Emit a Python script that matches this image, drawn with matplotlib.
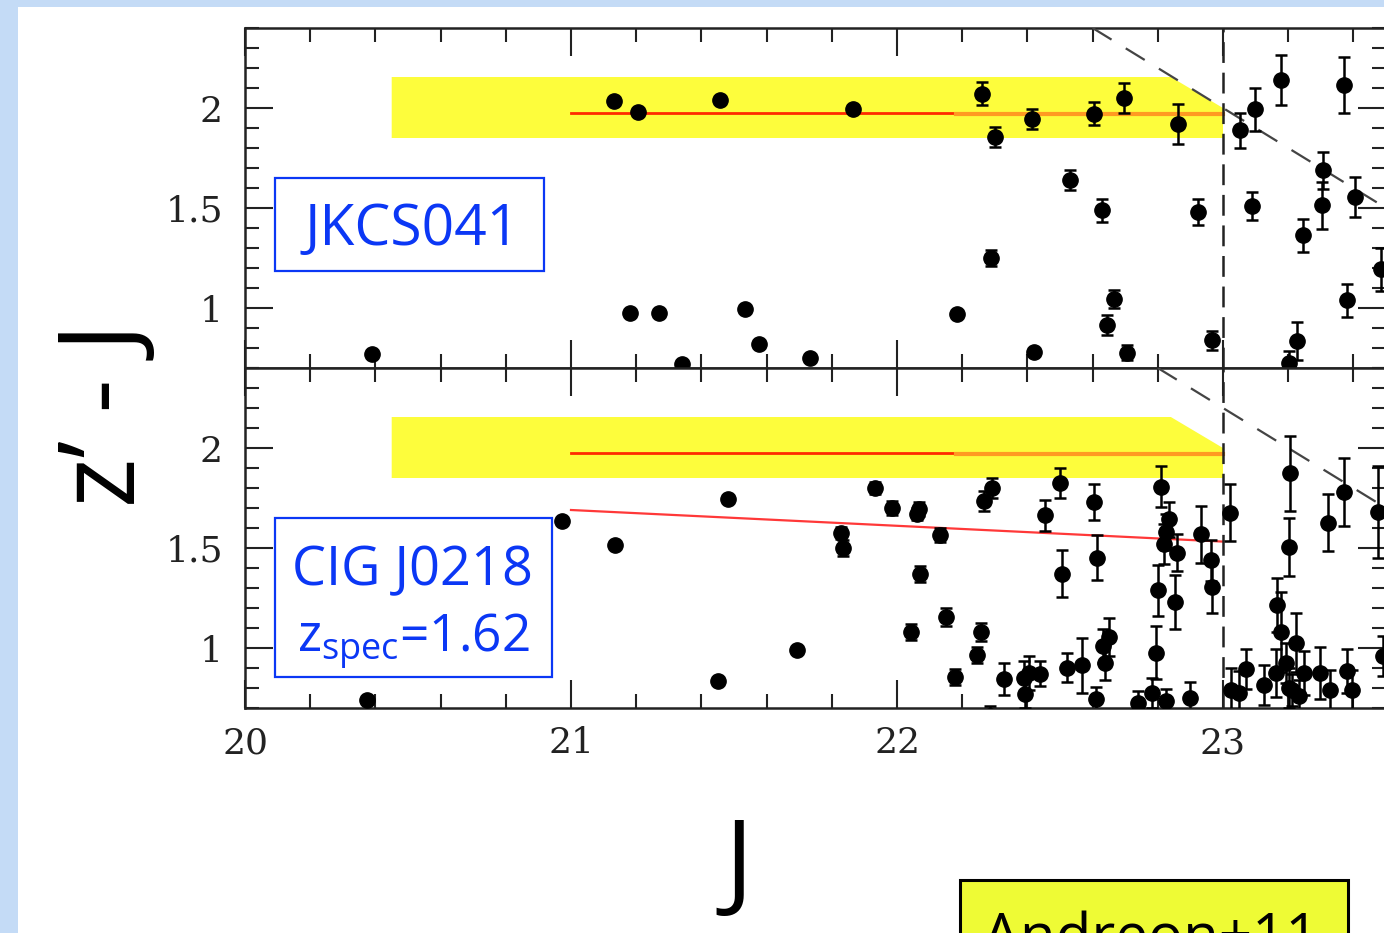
# cmd_red_sequence_panels.py
# z'-J vs J colour-magnitude diagrams for JKCS041 and CIG J0218 (slide figure)

import numpy as np
import matplotlib.pyplot as plt
from matplotlib.patches import Rectangle
from matplotlib.ticker import MultipleLocator

plt.rcParams["lines.scale_dashes"] = False
plt.rcParams["mathtext.fontset"] = "custom"
plt.rcParams["mathtext.rm"] = "Open Sans"

# ---------------------------
# JKCS041 (upper panel): J, z'-J, error on z'-J
# ---------------------------
j_041 = [20.389, 21.131, 21.207, 21.182, 21.269, 21.341, 21.456, 21.535,
         21.576, 21.733, 21.866, 22.183, 22.262, 22.288, 22.300, 22.415,
         22.420, 22.532, 22.605, 22.630, 22.643, 22.667, 22.695, 22.704,
         22.863, 22.924, 22.965, 23.051, 23.088, 23.097, 23.177, 23.203,
         23.226, 23.246, 23.303, 23.306, 23.370, 23.379, 23.405, 23.485]
zj_041 = [0.770, 2.033, 1.978, 0.975, 0.975, 0.720, 2.040, 0.993,
          0.822, 0.752, 1.993, 0.972, 2.072, 1.248, 1.855, 1.943,
          0.782, 1.638, 1.972, 1.488, 0.915, 1.043, 2.052, 0.777,
          1.918, 1.480, 0.838, 1.888, 1.510, 1.993, 2.138, 0.725,
          0.835, 1.363, 1.513, 1.688, 2.115, 1.038, 1.555, 1.193]
err_041 = [0.0, 0.0, 0.0, 0.0, 0.0, 0.0, 0.0, 0.0,
           0.0, 0.0, 0.020, 0.0, 0.058, 0.040, 0.050, 0.050,
           0.015, 0.050, 0.056, 0.056, 0.050, 0.045, 0.075, 0.036,
           0.100, 0.064, 0.047, 0.088, 0.069, 0.107, 0.125, 0.060,
           0.096, 0.081, 0.117, 0.092, 0.138, 0.082, 0.100, 0.108]

# ---------------------------
# CIG J0218 (lower panel)
# ---------------------------
j_0218 = [20.374, 20.972, 21.136, 21.450, 21.481, 21.694, 21.827, 21.835,
          21.934, 21.985, 22.042, 22.060, 22.067, 22.070, 22.132, 22.151,
          22.177, 22.245, 22.257, 22.266, 22.285, 22.292, 22.327, 22.390,
          22.392, 22.405, 22.440, 22.454, 22.500, 22.505, 22.521, 22.567,
          22.605, 22.610, 22.613, 22.633, 22.637, 22.650, 22.738, 22.783,
          22.794, 22.801, 22.811, 22.820, 22.825, 22.824, 22.835, 22.852,
          22.860, 22.899, 22.934, 22.963, 22.966, 23.022, 23.024, 23.050,
          23.070, 23.127, 23.163, 23.166, 23.178, 23.194, 23.201, 23.203,
          23.207, 23.213, 23.224, 23.234, 23.249, 23.298, 23.323, 23.329,
          23.370, 23.380, 23.395, 23.475, 23.490]
zj_0218 = [0.742, 1.633, 1.517, 0.835, 1.747, 0.988, 1.577, 1.498,
           1.800, 1.700, 1.080, 1.668, 1.695, 1.372, 1.565, 1.157,
           0.855, 0.965, 1.080, 1.735, 0.660, 1.798, 0.843, 0.851,
           0.771, 0.876, 0.871, 1.663, 1.823, 1.372, 0.901, 0.913,
           1.730, 0.743, 1.452, 1.010, 0.926, 1.055, 0.727, 0.777,
           0.976, 1.288, 1.807, 1.518, 1.580, 0.735, 1.643, 1.230,
           1.477, 0.751, 1.568, 1.438, 1.305, 1.677, 0.788, 0.776,
           0.893, 0.815, 0.876, 1.215, 1.082, 0.926, 0.801, 1.505,
           1.873, 0.788, 1.027, 0.760, 0.876, 0.876, 1.627, 0.788,
           1.780, 0.885, 0.788, 1.680, 0.960]
err_0218 = [0.0, 0.0, 0.0, 0.0, 0.0, 0.0, 0.030, 0.040,
            0.030, 0.035, 0.040, 0.030, 0.035, 0.040, 0.035, 0.045,
            0.040, 0.040, 0.045, 0.050, 0.050, 0.050, 0.080, 0.085,
            0.070, 0.085, 0.062, 0.077, 0.075, 0.117, 0.072, 0.136,
            0.088, 0.060, 0.111, 0.083, 0.088, 0.096, 0.060, 0.075,
            0.133, 0.129, 0.104, 0.100, 0.090, 0.060, 0.088, 0.133,
            0.092, 0.080, 0.144, 0.104, 0.132, 0.142, 0.110, 0.110,
            0.100, 0.100, 0.120, 0.135, 0.200, 0.100, 0.100, 0.144,
            0.188, 0.080, 0.148, 0.080, 0.110, 0.130, 0.142, 0.100,
            0.168, 0.110, 0.100, 0.230, 0.100]

# red-sequence model and its band
rs_model = 1.976          # model colour, bright part
rs_model_faint = 1.968    # model colour, faint part
rs_split_j = 22.18
rs_start_j = 21.0
band_lo, band_hi = 1.85, 2.155
band_left_j, band_knee_j = 20.45, 22.84
band_corner_c = 2.0

# fitted red sequence of CIG J0218
fit_0218_j = [21.0, 23.0]
fit_0218_c = [1.690, 1.532]

j_complete = 23.0                        # J completeness limit
z_limit = {"top": 25.0, "bottom": 25.2}  # z' completeness limit

x_ticks = [20, 21, 22, 23]
y_ticks = [1, 1.5, 2]

# ---------------------------
# layout (pixels of the 1384x933 slide)
# ---------------------------
W, H = 1384, 933
BLUE = "#0b37f5"
TICK_FONT = "DejaVu Serif"
SLIDE_FONT = "Open Sans"


def px_rect(l, t, r, b):
    return [l / W, 1 - b / H, (r - l) / W, (b - t) / H]


def draw_panel(ax, j, c, e, zlim, label_x, fit=None):
    # yellow red-sequence band, cut by the completeness corner
    ax.fill([band_left_j, band_left_j, band_knee_j, j_complete, j_complete],
            [band_lo, band_hi, band_hi, band_corner_c, band_lo],
            color="#fdfd3c", lw=0, zorder=1)
    ax.plot([rs_start_j, rs_split_j], [rs_model, rs_model],
            color="#ff2a00", lw=2.0, zorder=2)
    ax.plot([rs_split_j, j_complete], [rs_model_faint, rs_model_faint],
            color="#ff9a22", lw=3.0, zorder=2)
    if fit is not None:
        ax.plot(fit[0], fit[1], color="#ff3838", lw=1.6, zorder=2)

    # completeness limits
    ax.axvline(j_complete, color="#222222", lw=1.8, dashes=(15, 7), zorder=3)
    jj = np.array([zlim - 2.4, 23.5])
    ax.plot(jj, zlim - jj, color="#444444", lw=1.6, dashes=(16, 12), zorder=3)

    ax.errorbar(j, c, yerr=e, fmt="o", color="black", ms=11,
                elinewidth=1.8, capsize=4, capthick=1.8, zorder=5)

    ax.set_xlim(20, 23.5)
    ax.set_ylim(0.7, 2.4)
    ax.set_xticks(x_ticks, labels=[str(v) for v in x_ticks])
    ax.set_yticks(y_ticks, labels=[f"{v:g}" for v in y_ticks])
    ax.xaxis.set_minor_locator(MultipleLocator(0.2))
    ax.yaxis.set_minor_locator(MultipleLocator(0.1))
    ax.tick_params(which="both", direction="in", top=True, right=True,
                   width=1.5, color="#222222")
    ax.tick_params(which="major", length=20)
    ax.tick_params(which="minor", length=10)
    ax.tick_params(axis="y", pad=16, labelsize=26, labelcolor="#222222")
    ax.tick_params(axis="x", pad=13, labelsize=26, labelcolor="#222222",
                   labelbottom=label_x)
    for lab in ax.get_xticklabels() + ax.get_yticklabels():
        lab.set_family(TICK_FONT)
    for sp in ax.spines.values():
        sp.set_linewidth(1.8)
        sp.set_color("#222222")


def main():
    fig = plt.figure(figsize=(W / 100, H / 100), dpi=100)
    fig.patch.set_facecolor("#c4dbf6")
    fig.add_artist(Rectangle((18 / W, 0), 1, 1 - 7 / H, transform=fig.transFigure,
                             facecolor="white", edgecolor="none", zorder=0))

    ax_top = fig.add_axes(px_rect(245, 28, 1386, 368))
    ax_bot = fig.add_axes(px_rect(245, 368, 1386, 708))
    draw_panel(ax_top, j_041, zj_041, err_041, z_limit["top"], False)
    draw_panel(ax_bot, j_0218, zj_0218, err_0218, z_limit["bottom"], True,
               fit=(fit_0218_j, fit_0218_c))

    # axis titles in the slide font
    fig.text(107 / W, 1 - 415 / H, "z\u2019 - J", rotation=90, ha="center",
             va="center", fontsize=76, family=SLIDE_FONT, color="black")
    fig.text(739 / W, 1 - 896 / H, "J", ha="center", va="baseline",
             fontsize=76, family=SLIDE_FONT, color="black")

    # cluster name boxes
    fig.add_artist(Rectangle((275 / W, 1 - 271 / H), 269 / W, 93 / H,
                             transform=fig.transFigure, facecolor="white",
                             edgecolor=BLUE, lw=1.6, zorder=6))
    fig.text(305 / W, 1 - 245 / H, "JKCS041", ha="left", va="baseline",
             fontsize=41, family=SLIDE_FONT, color=BLUE, zorder=7)

    fig.add_artist(Rectangle((275 / W, 1 - 677 / H), 277 / W, 159 / H,
                             transform=fig.transFigure, facecolor="white",
                             edgecolor=BLUE, lw=1.6, zorder=6))
    fig.text(292 / W, 1 - 585 / H, "CIG J0218", ha="left", va="baseline",
             fontsize=39, family=SLIDE_FONT, color=BLUE, zorder=7)
    fig.text(297 / W, 1 - 652 / H, r"z$_{\mathrm{spec}}$=1.62", ha="left",
             va="baseline", fontsize=37, family=SLIDE_FONT, color=BLUE, zorder=7)

    # reference tag, cut by the slide edge
    fig.add_artist(Rectangle((960 / W, -0.05), 388 / W, 0.05 + 1 - 880 / H,
                             transform=fig.transFigure, facecolor="#eefb35",
                             edgecolor="black", lw=2.2, zorder=6))
    fig.text(983 / W, 1 - 955 / H, "Andreon+11", ha="left", va="baseline",
             fontsize=42, family=SLIDE_FONT, color="black", zorder=7)

    fig.savefig("out.png", dpi=100, facecolor=fig.get_facecolor())
    plt.close(fig)


if __name__ == "__main__":
    main()
